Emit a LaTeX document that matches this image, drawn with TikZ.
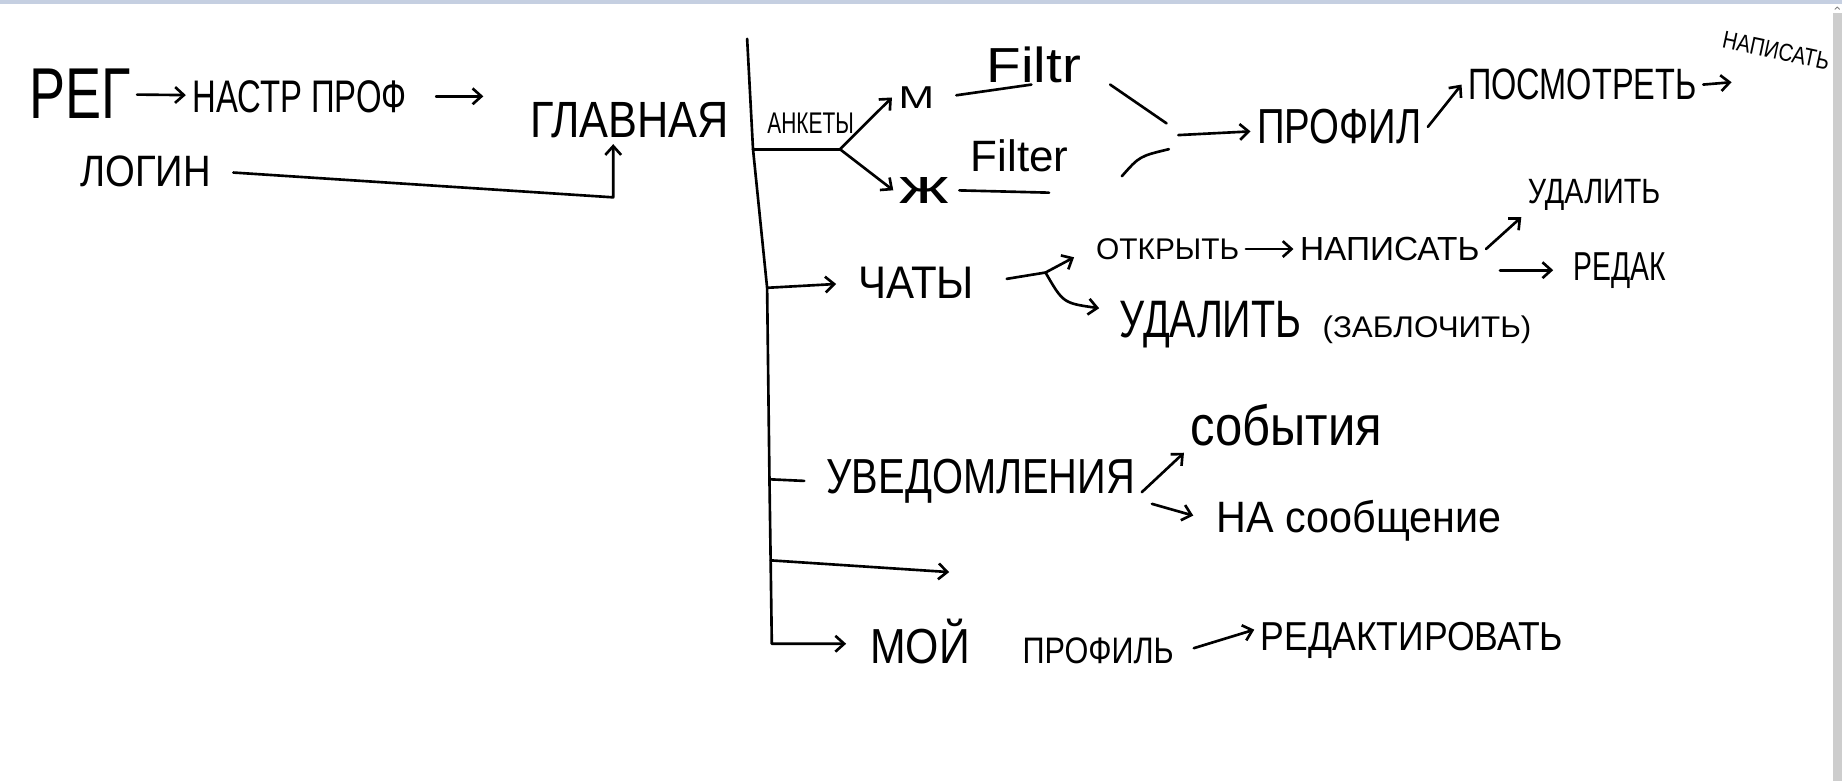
\documentclass[tikz,border=0pt]{standalone}
\usepackage{graphicx}
\usepackage{fontspec}
\setmainfont{Liberation Sans}
\usetikzlibrary{arrows.meta}
\definecolor{barcol}{RGB}{197,207,225}
\definecolor{scrollcol}{RGB}{205,205,205}
\newcommand{\hw}[3]{\scalebox{#1}[1]{\fontsize{#2}{#2}\selectfont #3}}
\begin{document}
\begin{tikzpicture}[x=0.0235cm,y=-0.0235cm,line width=1.5pt,line cap=round,line join=round,
  >={Straight Barb[length=5pt,width=9pt]}, lbl/.style={inner sep=3pt}]
\useasboundingbox (0,0) rectangle (1568,665);
\fill[barcol] (0,0) rectangle (1568,3.5);

\node[lbl] (reg) at (68,80) {\hw{0.75}{41}{РЕГ}};
\node[lbl] (nastr) at (255,82) {\hw{0.72}{26}{НАСТР ПРОФ}};
\node[lbl] (glav) at (536,102) {\hw{0.85}{29}{ГЛАВНАЯ}};
\node[lbl] (login) at (124,146) {\hw{0.87}{25}{ЛОГИН}};

\node[lbl] (anket) at (690,105) {\hw{0.7}{17}{АНКЕТЫ}};
\node[lbl] (m) at (780,83) {\hw{1.35}{18}{М}};
\node[lbl] (zh) at (787,162) {\hw{1.5}{28}{ж}};
\node[lbl] (filtr) at (880,55) {\hw{1.15}{28}{Filtr}};
\node[lbl] (filter) at (868,133) {\hw{1}{25}{Filter}};
\node[lbl] (prof) at (1140,108) {\hw{0.78}{28}{ПРОФИЛ}};
\node[lbl] (posm) at (1347,72) {\hw{0.74}{25}{ПОСМОТРЕТЬ}};
\node[lbl,rotate=-12] (napis1) at (1512,43) {\hw{0.82}{14}{НАПИСАТЬ}};

\node[lbl] (chat) at (780,241) {\hw{0.92}{26}{ЧАТЫ}};
\node[lbl] (otkr) at (994,212) {\hw{1}{17}{ОТКРЫТЬ}};
\node[lbl] (napis2) at (1183,212) {\hw{1}{19}{НАПИСАТЬ}};
\node[lbl] (udal2) at (1357,166) {\hw{0.82}{20}{УДАЛИТЬ}};
\node[lbl] (redak) at (1379,230) {\hw{0.7}{23}{РЕДАК}};
\node[lbl,anchor=base west] (udal) at (947.5,287) {\hw{0.75}{30}{УДАЛИТЬ}\hspace{12pt}\hw{1.05}{17}{(ЗАБЛОЧИТЬ)}};

\node[lbl] (uved) at (835,410) {\hw{0.81}{28}{УВЕДОМЛЕНИЯ}};
\node[lbl] (sob) at (1095,362) {\hw{0.87}{32}{события}};
\node[lbl] (nasoob) at (1157,443) {\hw{0.94}{25}{НА сообщение}};

\node[lbl,anchor=base] (moy) at (870,565) {\hw{0.87}{28}{МОЙ}\hspace{30pt}\hw{0.83}{21}{ПРОФИЛЬ}};
\node[lbl] (redakt) at (1202,545) {\hw{0.88}{23}{РЕДАКТИРОВАТЬ}};

\coordinate (t0) at (636,33);
\coordinate (t1) at (641,127);
\coordinate (t2) at (653,245);
\coordinate (t3) at (655,408);
\coordinate (t4) at (656,477);
\coordinate (t5) at (657,548);
\coordinate (fork) at (715,127);
\coordinate (lc) at (522,168);
\coordinate (cj) at (890,232);
\coordinate (eend) at (808,487);
\coordinate (pw) at (1474,70);
\coordinate (fu2) at (878,72);
\coordinate (fu3) at (945,72);
\coordinate (fu4) at (993,105);
\coordinate (fl2) at (893,164);
\coordinate (fl3) at (955,150);
\coordinate (fl4) at (995,127);
\coordinate (jn) at (1003,115);

\draw[->] (reg) -- (nastr);
\draw[->,shorten <=13pt,shorten >=23pt] (nastr.east) -- (nastr.east -| glav.west);
\draw[->,shorten <=9pt] (login.east) -- (lc) -- (lc |- glav.south);

\draw[->,shorten >=10pt] (t0) -- (t1) -- (t2) -- (t3) -- (t4) -- (t5) -- (t5 -| moy.west);

\draw (t1) -- (fork);
\draw[->] (fork) -- (m.west);
\draw[->] (fork) -- (zh.west);
\draw[shorten <=9pt] (m.east) -- (fu2);
\draw (fu3) -- (fu4);
\draw[shorten <=2pt] (zh.east) -- (fl2);
\draw (fl3) .. controls (970,133) .. (fl4);
\draw[->] (jn) -- (prof);
\draw[->] (prof.east) -- (posm.west);
\draw[->] (posm.east) -- (pw);

\draw[->,shorten >=9pt] (t2) -- (chat.west);
\draw[shorten <=15pt] (chat.east) -- (cj);
\draw[->,shorten >=10pt] (cj) -- (otkr.west);
\draw[->,shorten >=8pt] (cj) .. controls (905,258) .. ([yshift=8pt]udal.west);
\draw[->] (otkr) -- (napis2);
\draw[->] (napis2.east) -- (udal2.south west);
\draw[->,shorten <=8pt,shorten >=8pt] (napis2.south east |- redak.west) -- (redak.west);

\draw[shorten >=9pt] (t3) -- (uved.west);
\draw[->] ([yshift=-6pt]uved.east) -- (sob.south west);
\draw[->,shorten <=6pt,shorten >=10pt] ([yshift=-11pt]uved.east) -- (nasoob.west);

\draw[->] (t4) -- (eend);

\draw[->,shorten <=8pt] ([yshift=-6pt]moy.east) -- ([yshift=6pt]redakt.west);

\fill[scrollcol] (1560,11) rectangle (1568,665);
\draw[gray,line width=0.5pt] (1562,8) -- (1564,6) -- (1566,8);
\end{tikzpicture}
\end{document}
